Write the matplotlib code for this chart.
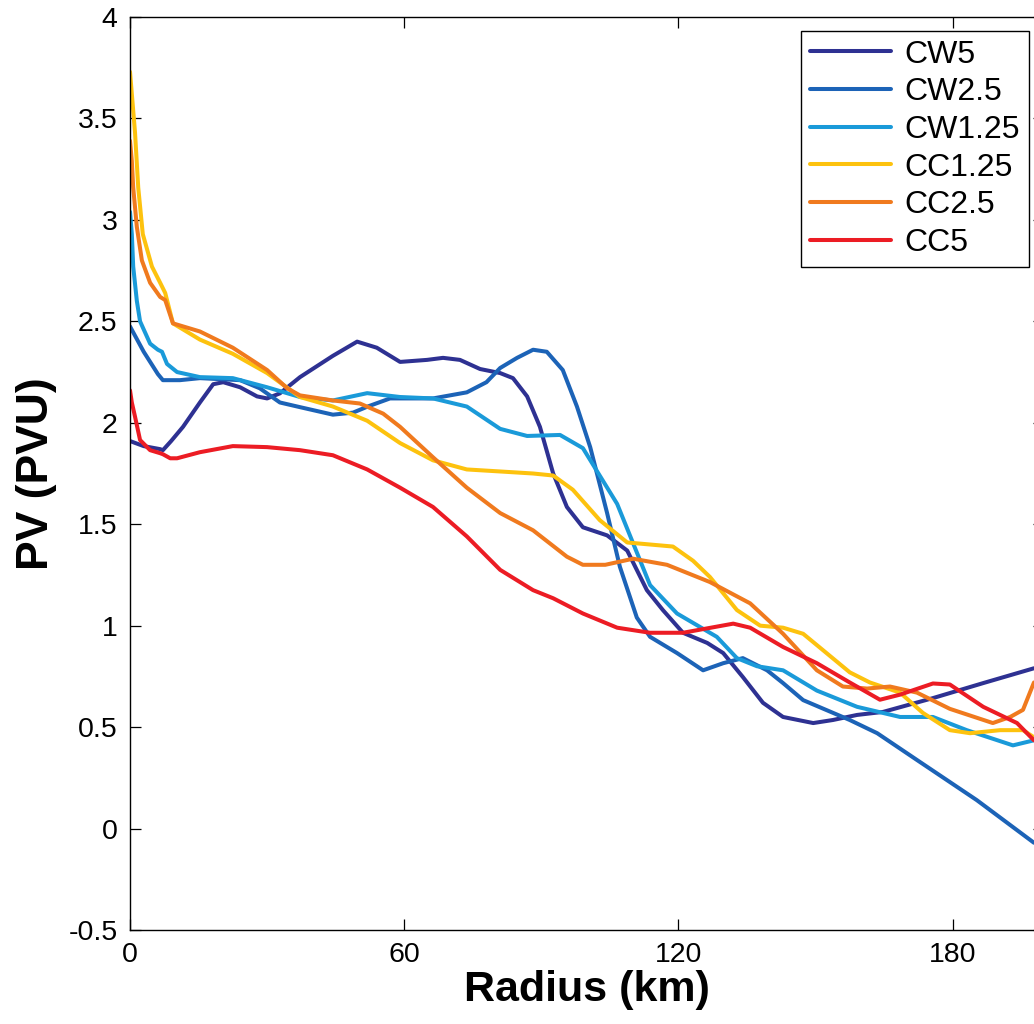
import matplotlib
matplotlib.use("Agg")
import matplotlib.pyplot as plt

plt.rcParams['font.family'] = ['Liberation Sans', 'DejaVu Sans']
plt.rcParams['axes.unicode_minus'] = False

# curvas de PV por raio
cw5_x = [0, 3, 6.6, 7.2, 9, 11.6, 15.3, 18.2, 20.4, 24.1, 27.8, 30, 32.8, 37.2, 44.4, 49.7,
         54, 59.1, 65, 68.5, 72.2, 76.6, 81, 83.8, 86.9, 89.7, 92.6, 95.6, 99.1, 104.4, 108.8,
         113.1, 116.6, 121, 126.3, 129.8, 134.1, 138.5, 142.9, 149.5, 153.8, 159.1, 164.8,
         175.7, 186.7, 197.8]
cw5_y = [1.91, 1.885, 1.87, 1.865, 1.91, 1.98, 2.10, 2.19, 2.20, 2.175, 2.13, 2.12, 2.145,
         2.225, 2.33, 2.40, 2.37, 2.30, 2.31, 2.32, 2.31, 2.265, 2.245, 2.22, 2.13, 1.98, 1.75,
         1.585, 1.485, 1.445, 1.37, 1.175, 1.077, 0.965, 0.915, 0.865, 0.747, 0.62, 0.55, 0.52,
         0.535, 0.56, 0.575, 0.643, 0.717, 0.79]

cw25_x = [0, 3, 6.1, 7.2, 10.9, 15.3, 24.1, 28.4, 32.8, 37.2, 44.4, 48.8, 52, 56.9, 66.3,
          73.7, 78, 81, 84.7, 88.2, 91.2, 94.7, 97.8, 100.7, 104.4, 107.2, 110.9, 113.8, 119.7,
          125.4, 129.8, 134.1, 139.4, 142.9, 147.3, 157.5, 163.5, 172.2, 185.3, 197.8]
cw25_y = [2.475, 2.35, 2.24, 2.21, 2.21, 2.22, 2.21, 2.17, 2.10, 2.077, 2.04, 2.05, 2.08, 2.12,
          2.12, 2.15, 2.20, 2.27, 2.32, 2.36, 2.35, 2.26, 2.08, 1.88, 1.555, 1.29, 1.04, 0.945,
          0.865, 0.78, 0.815, 0.84, 0.78, 0.717, 0.633, 0.535, 0.47, 0.338, 0.14, -0.07]

cw125_x = [0, 0.4, 0.7, 1.5, 2.2, 4.4, 6.1, 7.0, 8.1, 10.3, 15.3, 22.5, 30, 37.2, 44.4, 51.9,
           59.1, 66.3, 73.7, 81, 86.9, 94.1, 99.1, 106.6, 113.8, 119.7, 128.4, 132.8, 137.2,
           142.9, 150.3, 159.1, 168.5, 175.7, 183.1, 193.2, 197.8]
cw125_y = [3.04, 2.93, 2.77, 2.6, 2.5, 2.39, 2.36, 2.35, 2.29, 2.25, 2.225, 2.22, 2.175, 2.127,
           2.11, 2.146, 2.127, 2.12, 2.08, 1.97, 1.935, 1.94, 1.875, 1.60, 1.20, 1.06, 0.945,
           0.84, 0.80, 0.78, 0.68, 0.60, 0.55, 0.55, 0.485, 0.41, 0.435]

cc125_x = [0, 1.1, 1.8, 2.8, 4.8, 6.6, 7.7, 9.4, 15.3, 22.5, 30, 37.2, 44.4, 51.9, 59.1, 66.3,
           73.7, 81, 88.2, 92.6, 96.9, 102.8, 108.8, 113.8, 118.8, 123.2, 126.9, 132.8, 137.9,
           142.9, 147.3, 151.6, 157.5, 161.9, 168.5, 173.5, 179.4, 183.8, 190.4, 195.4, 197.8]
cc125_y = [3.73, 3.43, 3.16, 2.93, 2.77, 2.69, 2.64, 2.49, 2.41, 2.34, 2.245, 2.127, 2.08, 2.01,
           1.90, 1.815, 1.77, 1.76, 1.75, 1.74, 1.67, 1.52, 1.41, 1.40, 1.39, 1.32, 1.24, 1.077,
           1.00, 0.99, 0.96, 0.88, 0.77, 0.72, 0.67, 0.57, 0.485, 0.47, 0.485, 0.485, 0.45]

cc25_x = [0, 0.4, 0.7, 1.5, 2.6, 4.4, 6.6, 7.7, 9.4, 15.3, 22.5, 30, 34.4, 37.2, 44.4, 50.3,
          55.4, 59.1, 66.3, 73.7, 81, 88.2, 95.6, 99.1, 104, 110.1, 117.5, 126.9, 135.7, 142.9,
          150.3, 156, 161.3, 166.3, 172.2, 179.4, 188.8, 192.6, 195.4, 197.8]
cc25_y = [3.39, 3.29, 3.16, 2.965, 2.80, 2.69, 2.62, 2.605, 2.49, 2.45, 2.37, 2.26, 2.17,
          2.135, 2.11, 2.095, 2.045, 1.98, 1.83, 1.68, 1.555, 1.47, 1.34, 1.30, 1.30, 1.33, 1.30,
          1.215, 1.11, 0.96, 0.78, 0.70, 0.69, 0.70, 0.67, 0.59, 0.52, 0.55, 0.585, 0.72]

cc5_x = [0, 0.4, 1.1, 2.2, 4.4, 6.6, 7.2, 8.8, 10.3, 15.3, 22.5, 30, 37.2, 44.4, 51.9, 59.1,
         66.3, 73.7, 81, 88.2, 92.6, 99.1, 106.6, 113.8, 121, 132, 135.7, 142.9, 150.3, 157.5,
         164.1, 168.5, 175.7, 179.4, 186.7, 194.1, 197.8]
cc5_y = [2.16, 2.10, 2.03, 1.915, 1.865, 1.85, 1.845, 1.825, 1.825, 1.855, 1.885, 1.88, 1.865,
         1.84, 1.77, 1.68, 1.585, 1.44, 1.275, 1.175, 1.135, 1.06, 0.99, 0.965, 0.965, 1.01,
         0.99, 0.895, 0.815, 0.72, 0.635, 0.66, 0.715, 0.71, 0.60, 0.52, 0.435]

nomes = ['CW5', 'CW2.5', 'CW1.25', 'CC1.25', 'CC2.5', 'CC5']
cores = ['#2e3192', '#1c63b7', '#1a9ad9', '#fdc20e', '#f07a1e', '#ec1c24']

x_ticks = [0, 60, 120, 180]
x_ticklabels = ['0', '60', '120', '180']
y_ticks = [-0.5, 0, 0.5, 1, 1.5, 2, 2.5, 3, 3.5, 4]
y_ticklabels = ['-0.5', '0', '0.5', '1', '1.5', '2', '2.5', '3', '3.5', '4']

fig = plt.figure(figsize=(10.34, 10.24), dpi=100)
# o eixo passa da borda direita da figura (a imagem original está cortada)
ax = fig.add_axes([130/1034, 1 - 930/1024, 914/1034, 913/1024])

series = [(cw5_x, cw5_y), (cw25_x, cw25_y), (cw125_x, cw125_y),
          (cc125_x, cc125_y), (cc25_x, cc25_y), (cc5_x, cc5_y)]
for (xs, ys), nome, cor in zip(series, nomes, cores):
    ax.plot(xs, ys, color=cor, linewidth=2.9, label=nome,
            solid_joinstyle='round', solid_capstyle='round')

ax.set_xlim(0, 200)
ax.set_ylim(-0.5, 4)
ax.set_xticks(x_ticks)
ax.set_xticklabels(x_ticklabels)
ax.set_yticks(y_ticks)
ax.set_yticklabels(y_ticklabels)
ax.tick_params(direction='in', length=8, width=0.9, labelsize=20.5, pad=9,
               top=True, right=True)
for s in ax.spines.values():
    s.set_linewidth(1.0)

ax.set_xlabel('Radius (km)', fontsize=31, fontweight='bold', labelpad=1)
ax.set_ylabel('PV (PVU)', fontsize=32, fontweight='bold', labelpad=8)

leg = ax.legend(loc='upper right', bbox_to_anchor=(1029/1034, 1 - 31/1024),
                bbox_transform=fig.transFigure, fontsize=23, frameon=True,
                fancybox=False, framealpha=1, edgecolor='black',
                handlelength=2.55, handletextpad=0.42, labelspacing=0.24,
                borderpad=0.27, borderaxespad=0)
leg.get_frame().set_linewidth(1.0)

fig.savefig('out.png', dpi=100)
